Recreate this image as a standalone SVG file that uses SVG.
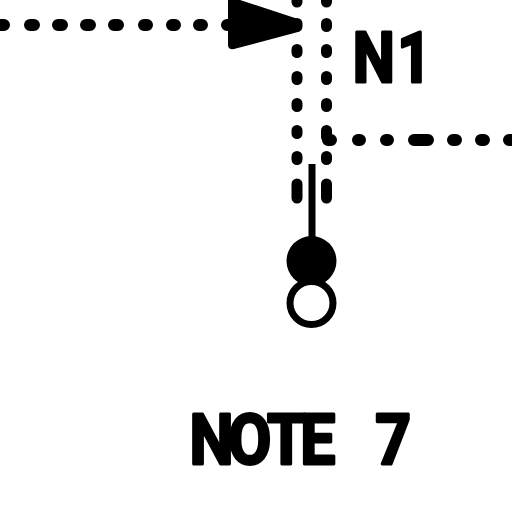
<svg xmlns="http://www.w3.org/2000/svg" width="512" height="512" viewBox="0 0 512 512">
<style>
.dash{fill:none;stroke:#000;stroke-width:12;stroke-linecap:round}
.dashv{fill:none;stroke:#000;stroke-width:11;stroke-linecap:round}
.lbl{font-family:Roboto,"Liberation Sans",sans-serif;font-weight:700;font-size:71px;fill:#000;stroke:#000;stroke-width:3;stroke-linejoin:round}
</style>
<rect width="512" height="512" fill="#fff"/>
<g id="connectors">
<path class="dash" d="M-4 25H4M30 25H34M58 25H62M86 25H90M114 25H118M144 25H147M172 25H175M199 25H202M227 25H232"/>
<path class="dashv" d="M297 -4V2M297 23.500V26.500M297 49.500V52.500M297 76.500V79.500M297 103.500V106.500M297 130.500V133.500M297 156.500V159.500M297 184V198"/>
<path class="dashv" d="M326.500 -4V2M326.500 23.500V26.500M326.500 49.500V52.500M326.500 76.500V79.500M326.500 103.500V106.500M326.500 130.500V137M326.500 156.500V159.500M326.500 184V198"/>
<path class="dash" d="M328 140H331M358 140H360M386 140H388M414 140H428M453 140H456M481 140H484M509 140H516"/>
<path d="M312 164V245" fill="none" stroke="#000" stroke-width="7"/>
<path d="M231 -3L298 19Q302 20 302 25Q302 30 298 32L234 49Q228 50 228 45V0Q228 -4 231 -3Z" fill="#000"/>
</g>
<g id="junction-closed"><circle cx="311.500" cy="261" r="25" fill="#000"/></g>
<g id="junction-open"><circle cx="311.500" cy="303" r="21.500" fill="#fff" stroke="#000" stroke-width="7"/></g>
<g id="label-n1"><text class="lbl" transform="translate(356 82) scale(.84 1)" x="-4 49">N1</text></g>
<g id="label-note7"><text class="lbl" transform="translate(193 464) scale(.88 1)" x="-4 40 84 122 170 207">NOTE 7</text></g>
</svg>
